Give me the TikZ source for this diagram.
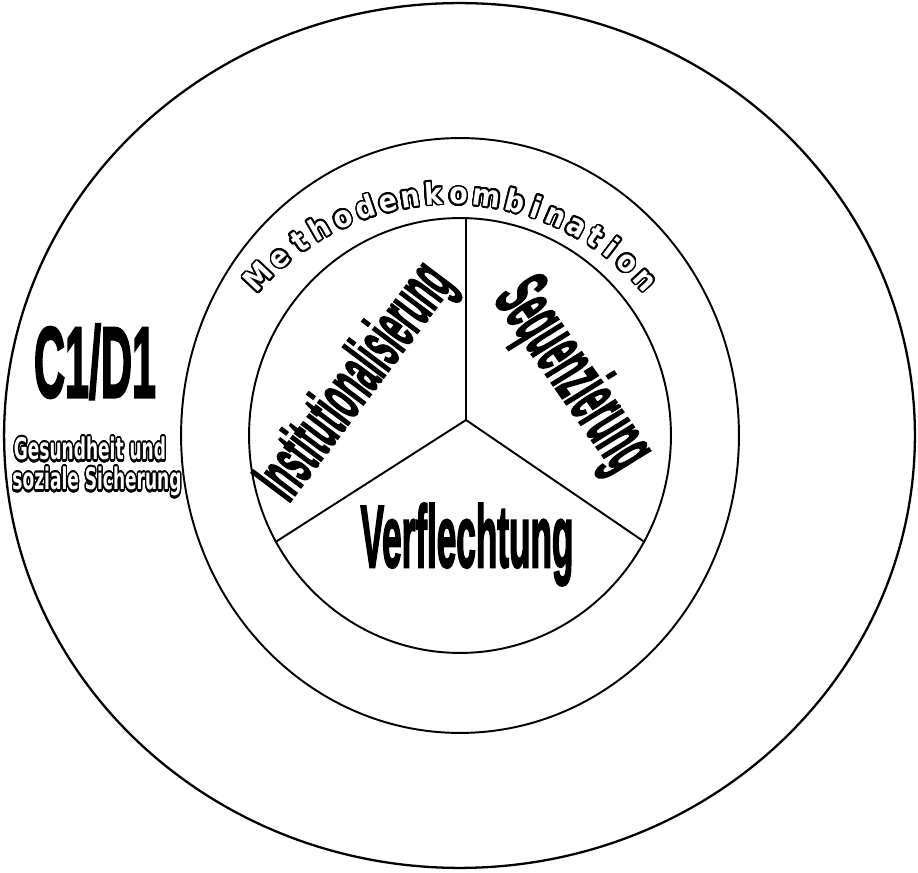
\documentclass[tikz,border=0pt]{standalone}
\usepackage{fontspec}
\usepackage{graphicx}
\usepackage[copies]{contour}
\usetikzlibrary{shapes.geometric}
\newfontfamily\heavyfont{Liberation Sans}[UprightFont={* Bold},FakeBold=3]
\newfontfamily\heavyslant{Liberation Sans}[UprightFont={* Bold},FakeBold=3,FakeSlant=0.15]
\newfontfamily\roundfont{DejaVu Sans}[UprightFont={* Bold}]
\contourlength{1pt}
\contournumber{32}
\newcommand\squeeze[2]{\scalebox{#1}[1]{#2}}
\tikzset{
  ring/.style={ellipse,draw,line width=1.1pt,inner sep=0pt},
  spoke/.style={line width=1.1pt},
  bigword/.style={font=\fontsize{#1}{#1}\selectfont\heavyfont,inner sep=0pt},
  slantword/.style={font=\fontsize{#1}{#1}\selectfont\heavyslant,inner sep=0pt},
  hollow/.style={font=\fontsize{#1}{#1}\selectfont\roundfont,text=white,inner sep=0pt},
}
\begin{document}
\begin{tikzpicture}[x=0.02cm,y=0.02cm]
  \useasboundingbox (0,0) rectangle (918,872);

  % three rings
  \node[ring,line width=1.3pt,minimum width=18.22cm,minimum height=17.3cm] (outer) at (459.5,436.5) {};
  \node[ring,minimum width=11.16cm,minimum height=11.9cm] (middle) at (460,436.5) {};
  \node[ring,minimum width=8.44cm,minimum height=8.7cm] (inner) at (460,436.5) {};

  % the three sectors
  \coordinate (hub) at (466,452);
  \draw[spoke] (hub) -- (hub |- inner.north);
  \draw[spoke] (hub) -- (inner.210);
  \draw[spoke] (hub) -- (inner.330);

  % lettering round the inner ring
  \coordinate (arc) at (451,414);
  \foreach \ang/\ch [count=\i] in {136.8/M,130.6/e,125.0/t,119.8/h,114.3/o,108.9/d,
      103.8/e,98.9/n,93.8/k,88.3/o,82.2/m,75.9/b,71.2/i,66.6/n,61.5/a,56.8/t,
      52.6/i,48.0/o,42.6/n}
    \node[hollow=17,anchor=base,rotate=\ang-90] (mk\i) at ([shift={(\ang:254)}]arc)
      {\squeeze{0.9}{\contour{black}{\ch}}};

  \node[bigword=40,rotate=53] (inst) at (357,489) {\squeeze{0.41}{Institutionalisierung}};
  \node[slantword=45,rotate=-55] (seq) at (571,497) {\squeeze{0.38}{Sequenzierung}};
  \node[bigword=50,anchor=base] (verf) at (467,305) {\squeeze{0.40}{Verflechtung}};

  % project label
  \node[bigword=57,anchor=base] (title) at (95,475) {\squeeze{0.43}{C1/D1}};
  \contourlength{1.2pt}
  \node[hollow=17,anchor=base] (topic1) at (90,412) {\squeeze{0.57}{\contour{black}{Gesundheit und}}};
  \node[hollow=17,anchor=base] (topic2) at (97,382) {\squeeze{0.57}{\contour{black}{soziale Sicherung}}};

\end{tikzpicture}
\end{document}
